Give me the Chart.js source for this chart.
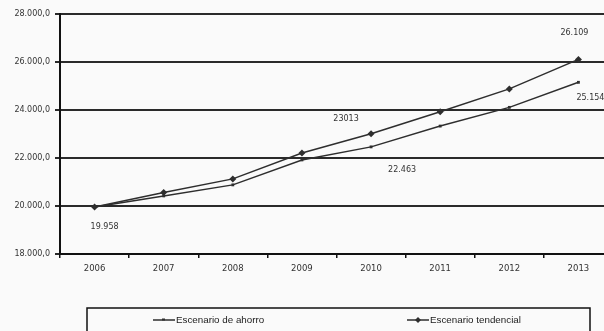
<!DOCTYPE html>
<html>
<head>
<meta charset="utf-8">
<script src="https://cdn.jsdelivr.net/npm/chart.js@4.4.0/dist/chart.umd.min.js"></script>
<style>
html,body{margin:0;padding:0;background:#fafafa;overflow:hidden;width:604px;height:331px;}
#wrap{width:620px;height:331px;}
</style>
</head>
<body>
<div id="wrap"><canvas id="c" width="620" height="331"></canvas></div>
<script>
const categories = ['2006','2007','2008','2009','2010','2011','2012','2013'];
const ahorro = [19958, 20420, 20880, 21920, 22463, 23330, 24110, 25154];
const tendencial = [19958, 20560, 21130, 22210, 23013, 23930, 24880, 26109];
const seriesNames = ['Escenario de ahorro', 'Escenario tendencial'];
const yTicks = [18000, 20000, 22000, 24000, 26000, 28000];
// data labels: [dataset index, point index, text]
const pointLabels = [
  [1, 0, '19.958'],
  [1, 4, '23013'],
  [0, 4, '22.463'],
  [1, 7, '26.109'],
  [0, 7, '25.154']
];
const labelOffsets = [[10,20],[-25,-15],[31,23],[-4,-26],[12,16]];

const ink = '#2e2e2e';

const labelPlugin = {
  id: 'ptLabels',
  afterDatasetsDraw(chart) {
    const ctx = chart.ctx;
    ctx.save();
    ctx.font = '8px "DejaVu Sans"';
    ctx.fillStyle = '#333';
    ctx.textAlign = 'center';
    ctx.textBaseline = 'middle';
    pointLabels.forEach((l, i) => {
      const el = chart.getDatasetMeta(l[0]).data[l[1]];
      ctx.fillText(l[2], el.x + labelOffsets[i][0], el.y + labelOffsets[i][1]);
    });
    ctx.restore();
  }
};

const legendPlugin = {
  id: 'boxLegend',
  afterDraw(chart) {
    const ctx = chart.ctx;
    ctx.save();
    ctx.strokeStyle = '#111';
    ctx.lineWidth = 1.5;
    ctx.strokeRect(87, 308, 503, 40);
    const items = [[153, 0], [407, 1]];
    items.forEach(([x, di]) => {
      const ds = chart.data.datasets[di];
      const y = 320;
      ctx.strokeStyle = ink;
      ctx.lineWidth = 1.5;
      ctx.beginPath();
      ctx.moveTo(x, y);
      ctx.lineTo(x + 22, y);
      ctx.stroke();
      ctx.fillStyle = ink;
      if (di === 1) {
        ctx.beginPath();
        ctx.moveTo(x + 11, y - 3); ctx.lineTo(x + 14, y); ctx.lineTo(x + 11, y + 3); ctx.lineTo(x + 8, y);
        ctx.closePath(); ctx.fill();
      } else {
        ctx.fillRect(x + 9, y - 1.5, 3, 2);
      }
      ctx.font = '9.8px "Liberation Sans"';
      ctx.fillStyle = '#222';
      ctx.textAlign = 'left';
      ctx.textBaseline = 'middle';
      ctx.fillText(ds.label, x + 23, y);
    });
    ctx.restore();
  }
};

new Chart(document.getElementById('c'), {
  type: 'line',
  data: {
    labels: categories,
    datasets: [
      {
        label: seriesNames[0],
        data: ahorro,
        borderColor: ink,
        backgroundColor: ink,
        borderWidth: 1.5,
        pointStyle: 'rect',
        pointRadius: 2,
        pointBorderWidth: 0,
        tension: 0
      },
      {
        label: seriesNames[1],
        data: tendencial,
        borderColor: ink,
        backgroundColor: ink,
        borderWidth: 1.5,
        pointStyle: 'rectRot',
        pointRadius: 3.5,
        pointBorderWidth: 0,
        tension: 0
      }
    ]
  },
  options: {
    responsive: false,
    animation: false,
    layout: { padding: { top: 14, right: 7, left: 0, bottom: 0 } },
    plugins: { legend: { display: false }, tooltip: { enabled: false } },
    scales: {
      x: {
        offset: true,
        grid: { offset: true, drawOnChartArea: false, drawTicks: true, tickLength: 4, color: '#111', lineWidth: 1.5 },
        border: { display: true, color: '#111', width: 2 },
        ticks: { color: '#333', font: { family: 'DejaVu Sans', size: 8.5 }, padding: 6, maxRotation: 0 },
        afterFit(s) { s.height = 77; }
      },
      y: {
        min: 18000, max: 28000,
        afterBuildTicks(s) { s.ticks = yTicks.map(v => ({ value: v })); },
        grid: { color: '#2a2a2a', lineWidth: 2, drawTicks: true, tickLength: 5 },
        border: { display: true, color: '#111', width: 2 },
        ticks: {
          color: '#333', font: { family: 'DejaVu Sans', size: 8 }, padding: 5,
          callback: v => v.toLocaleString('de-DE', { minimumFractionDigits: 1, maximumFractionDigits: 1 })
        },
        afterFit(s) { s.width = 60; }
      }
    }
  },
  plugins: [labelPlugin, legendPlugin]
});
</script>
</body>
</html>
